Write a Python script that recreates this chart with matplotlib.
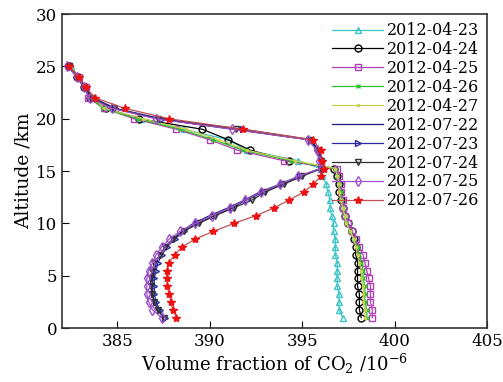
import matplotlib
matplotlib.use('Agg')
import matplotlib.pyplot as plt

plt.rcParams['font.family'] = ['DejaVu Serif']
plt.rcParams['mathtext.fontset'] = 'dejavuserif'

# altitude levels (km), bottom to top
alt = [1.0, 1.75, 2.5, 3.25, 4.0, 4.75, 5.5, 6.25, 7.0, 7.75, 8.5, 9.25, 10.0, 10.75, 11.5,
       12.25, 13.0, 13.75, 14.5, 15.25, 16.0, 17.0, 18.0, 19.0, 20.0, 21.0, 22.0, 23.0, 24.0, 25.0]

co2_0423 = [397.2, 397.0, 397.0, 397.0, 396.9, 396.9, 396.9, 396.9, 396.8, 396.8, 396.8, 396.7, 396.7, 396.6, 396.5,
            396.5, 396.4, 396.3, 396.1, 396.0, 394.8, 392.0, 391.0, 388.6, 386.3, 384.3, 383.7, 383.2, 382.9, 382.5]
co2_0424 = [398.2, 398.1, 398.1, 398.1, 398.0, 398.0, 398.0, 398.0, 397.9, 397.9, 397.8, 397.7, 397.5, 397.3, 397.2,
            397.1, 397.0, 397.0, 396.9, 396.7, 394.3, 392.2, 391.0, 389.6, 386.2, 384.4, 383.5, 383.2, 382.8, 382.4]
co2_0425 = [398.8, 398.8, 398.7, 398.7, 398.7, 398.6, 398.5, 398.4, 398.3, 398.1, 397.9, 397.7, 397.5, 397.3, 397.2,
            397.2, 397.1, 397.1, 397.0, 396.9, 394.0, 391.5, 390.0, 388.2, 385.9, 384.3, 383.4, 383.3, 382.9, 382.4]
co2_0426 = [398.5, 398.5, 398.4, 398.4, 398.4, 398.3, 398.3, 398.2, 398.1, 398.0, 397.8, 397.6, 397.4, 397.3, 397.2,
            397.1, 397.1, 397.0, 396.9, 396.8, 394.4, 391.8, 390.2, 388.4, 386.1, 384.2, 383.6, 383.2, 382.8, 382.4]
co2_0427 = [398.4, 398.4, 398.3, 398.3, 398.3, 398.2, 398.2, 398.1, 398.0, 397.9, 397.8, 397.6, 397.4, 397.3, 397.2,
            397.1, 397.0, 397.0, 396.9, 396.8, 394.6, 392.0, 390.5, 388.7, 386.4, 384.3, 383.7, 383.3, 382.9, 382.5]
co2_0722 = [387.5, 387.2, 387.0, 386.9, 386.9, 386.9, 387.0, 387.1, 387.3, 387.6, 388.0, 388.5, 389.1, 390.0, 391.0,
            391.9, 392.7, 393.8, 394.8, 396.0, 396.0, 395.9, 395.4, 391.3, 387.2, 384.8, 383.6, 383.3, 382.9, 382.4]
co2_0723 = [387.6, 387.3, 387.1, 387.0, 387.0, 387.0, 387.1, 387.2, 387.4, 387.7, 388.1, 388.6, 389.3, 390.2, 391.2,
            392.0, 392.9, 393.9, 394.9, 396.1, 396.1, 395.9, 395.5, 391.8, 387.4, 384.9, 383.7, 383.3, 382.9, 382.4]
co2_0724 = [387.5, 387.2, 387.0, 386.9, 386.8, 386.8, 386.9, 387.0, 387.3, 387.6, 388.0, 388.6, 389.4, 390.3, 391.3,
            392.3, 393.0, 394.0, 395.0, 396.0, 396.0, 395.8, 395.4, 391.4, 387.2, 384.8, 383.6, 383.2, 382.8, 382.4]
co2_0725 = [387.4, 386.9, 386.7, 386.6, 386.6, 386.6, 386.7, 386.9, 387.1, 387.4, 387.8, 388.4, 389.2, 390.1, 391.1,
            391.9, 392.8, 393.8, 394.8, 396.0, 395.9, 395.8, 395.3, 391.2, 387.1, 384.7, 383.5, 383.2, 382.8, 382.3]
co2_0726 = [388.2, 388.0, 387.9, 387.8, 387.7, 387.7, 387.7, 387.8, 388.1, 388.5, 389.2, 390.2, 391.3, 392.5, 393.5,
            394.3, 395.1, 395.6, 396.0, 396.2, 396.1, 396.0, 395.6, 391.8, 387.8, 385.4, 383.8, 383.3, 382.9, 382.4]

dates = ['2012-04-23', '2012-04-24', '2012-04-25', '2012-04-26', '2012-04-27',
         '2012-07-22', '2012-07-23', '2012-07-24', '2012-07-25', '2012-07-26']
series = [co2_0423, co2_0424, co2_0425, co2_0426, co2_0427,
          co2_0722, co2_0723, co2_0724, co2_0725, co2_0726]

styles = [
    dict(color='#3cc4c8', marker='^', mfc='none', ms=5),
    dict(color='black', marker='o', mfc='none', ms=5),
    dict(color='#b040b8', marker='s', mfc='none', ms=5),
    dict(color='#30c030', marker='x', ms=3),
    dict(color='#c8d050', marker='.', ms=3),
    dict(color='#1a1a80', marker=None),
    dict(color='#2a2aa0', marker='>', mfc='none', ms=5),
    dict(color='#303030', marker='v', mfc='none', ms=5),
    dict(color='#a050c8', marker='d', mfc='none', ms=5),
    dict(color='#c05050', marker='*', mfc='#ee1111', mec='#ee1111', ms=6),
]

fig = plt.figure(figsize=(5.03, 3.82), dpi=100)
ax = fig.add_axes([0.123, 0.141, 0.845, 0.822])

for d, s, st in zip(dates, series, styles):
    ax.plot(s, alt, lw=0.9, label=d, **st)

ax.set_xlim(382, 405)
ax.set_ylim(0, 30)
ax.set_xticks([385, 390, 395, 400, 405])
ax.set_yticks([0, 5, 10, 15, 20, 25, 30])
ax.tick_params(direction='in', length=5, labelsize=12, top=False, right=False)
for sp in ax.spines.values():
    sp.set_linewidth(1.2)
    sp.set_color('#333333')

ax.set_xlabel('Volume fraction of CO$_2$ /10$^{-6}$', fontsize=13, labelpad=1)
ax.set_ylabel('Altitude /km', fontsize=13.5, labelpad=2)

ax.legend(loc='upper right', frameon=False, fontsize=11.5, handlelength=3.2,
          labelspacing=0.12, handletextpad=0.2, borderaxespad=0.1)

plt.savefig('out.png', dpi=100)
